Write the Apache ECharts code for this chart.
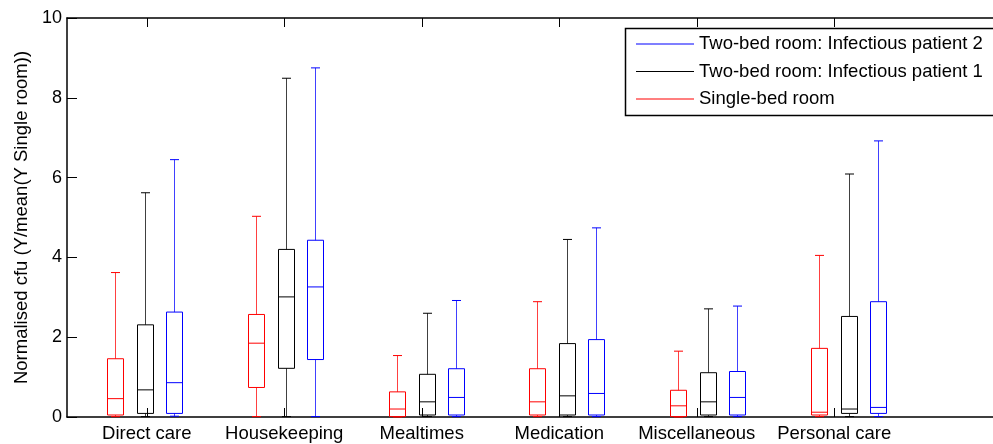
<!DOCTYPE html>
<html>
<head>
<meta charset="utf-8">
<script src="https://cdn.jsdelivr.net/npm/echarts@6/dist/echarts.min.js"></script>
<style>
html,body{margin:0;padding:0;background:#fff;overflow:hidden;}
#chart{width:993px;height:444px;}
</style>
</head>
<body>
<div id="chart"></div>
<script>
const categories = ['Direct care', 'Housekeeping', 'Mealtimes', 'Medication', 'Miscellaneous', 'Personal care'];
const yTickValues = [0, 2, 4, 6, 8, 10];
const seriesNames = ['Single-bed room', 'Two-bed room: Infectious patient 1', 'Two-bed room: Infectious patient 2'];
// each row: [lower whisker, Q1, median, Q3, upper whisker]
const singleBed = [
  [0.01, 0.05, 0.46, 1.46, 3.62],
  [0.01, 0.74, 1.85, 2.57, 5.03],
  [0.00, 0.01, 0.20, 0.63, 1.54],
  [0.01, 0.05, 0.38, 1.21, 2.89],
  [0.00, 0.01, 0.28, 0.67, 1.65],
  [0.01, 0.05, 0.12, 1.72, 4.05]
];
const twoBedPatient1 = [
  [0.01, 0.09, 0.68, 2.31, 5.62],
  [0.01, 1.22, 3.01, 4.20, 8.49],
  [0.01, 0.05, 0.38, 1.07, 2.60],
  [0.01, 0.05, 0.53, 1.84, 4.45],
  [0.01, 0.05, 0.38, 1.11, 2.71],
  [0.01, 0.09, 0.20, 2.52, 6.09]
];
const twoBedPatient2 = [
  [0.02, 0.09, 0.86, 2.63, 6.45],
  [0.01, 1.44, 3.26, 4.43, 8.75],
  [0.01, 0.05, 0.49, 1.21, 2.92],
  [0.01, 0.05, 0.59, 1.94, 4.74],
  [0.01, 0.05, 0.49, 1.14, 2.78],
  [0.01, 0.09, 0.24, 2.89, 6.92]
];

const FONT = '"Liberation Sans", Arial, sans-serif';
const colors = ['#ff0000', '#000000', '#0000ff'];
const offsets = [-30, 0, 29];
const groups = [singleBed, twoBedPatient1, twoBedPatient2];

function makeRenderer(offset) {
  return function (params, api) {
    const idx = api.value(0);
    const cx = Math.round(api.coord([idx, 0])[0] + offset) + 0.5;
    const yy = function (d) { return api.coord([idx, api.value(d)])[1]; };
    const yMin = yy(1), yQ1 = yy(2), yMed = yy(3), yQ3 = yy(4), yMax = yy(5);
    const hw = 8, cw = 4.5;
    const color = api.visual('color');
    const whisk = { stroke: color, lineWidth: 1, opacity: 0.75, fill: null };
    const solid = { stroke: color, lineWidth: 1, fill: null };
    return {
      type: 'group',
      children: [
        { type: 'line', shape: { x1: cx, y1: yQ3, x2: cx, y2: yMax }, style: whisk },
        { type: 'line', shape: { x1: cx, y1: yQ1, x2: cx, y2: yMin }, style: whisk },
        { type: 'line', shape: { x1: cx - cw, y1: yMax, x2: cx + cw, y2: yMax }, style: solid },
        { type: 'line', shape: { x1: cx - cw, y1: yMin, x2: cx + cw, y2: yMin }, style: solid },
        { type: 'rect', shape: { x: cx - hw, y: yQ3, width: 2 * hw, height: yQ1 - yQ3 }, style: { stroke: color, lineWidth: 1, fill: 'none' } },
        { type: 'line', shape: { x1: cx - hw, y1: yMed, x2: cx + hw, y2: yMed }, style: solid }
      ]
    };
  };
}

const series = groups.map(function (vals, s) {
  return {
    name: seriesNames[s],
    type: 'custom',
    xAxisIndex: 4,
    yAxisIndex: 2,
    itemStyle: { color: colors[s] },
    encode: { x: 0, y: [1, 2, 3, 4, 5] },
    renderItem: makeRenderer(offsets[s]),
    data: categories.map(function (c, i) { return [i].concat(vals[i]); }),
    z: 3
  };
});

const frameLine = { show: true, onZero: false, lineStyle: { color: '#000', width: 1.5 } };

const chart = echarts.init(document.getElementById('chart'), null, { renderer: 'canvas' });
chart.setOption({
  backgroundColor: '#fff',
  animation: false,
  textStyle: { fontFamily: FONT, color: '#000' },
  graphic: [
    {
      type: 'polyline', z: 5, silent: true,
      shape: { points: [[1010, 28.5], [625.5, 28.5], [625.5, 115.5], [1010, 115.5]] },
      style: { fill: null, stroke: '#000', lineWidth: 1.5 }
    }
  ],
  legend: {
    data: [seriesNames[2], seriesNames[1], seriesNames[0]],
    orient: 'vertical',
    left: 626,
    top: 29,
    z: 10,
    padding: [5, 0, 5, 10],
    itemGap: 7.5,
    itemWidth: 58,
    itemHeight: 1,
    icon: 'rect',
    selectedMode: false,
    textStyle: { fontFamily: FONT, fontSize: 18.5, color: '#000', lineHeight: 20 }
  },
  grid: [
    { left: 67, top: 18, right: 0, bottom: 27, show: false },
    { left: 78, width: 825, top: 18, bottom: 27 },
    { left: 75, width: 844, top: 18, bottom: 27 }
  ],
  xAxis: [
    { type: 'value', gridIndex: 0, min: 0, max: 1, position: 'bottom',
      axisLine: frameLine, axisTick: { show: false }, axisLabel: { show: false }, splitLine: { show: false } },
    { type: 'value', gridIndex: 0, min: 0, max: 1, position: 'top',
      axisLine: frameLine, axisTick: { show: false }, axisLabel: { show: false }, splitLine: { show: false } },
    {
      type: 'category', gridIndex: 1, data: categories, position: 'bottom',
      axisLine: { show: false },
      axisTick: { show: true, inside: true, alignWithLabel: true, length: 9, lineStyle: { color: '#000' } },
      axisLabel: { interval: 0, fontFamily: FONT, fontSize: 18.5, color: '#000', margin: 7 },
      splitLine: { show: false }
    },
    {
      type: 'category', gridIndex: 1, data: categories, position: 'top',
      axisLine: { show: false },
      axisTick: { show: true, inside: true, alignWithLabel: true, length: 9, lineStyle: { color: '#000' } },
      axisLabel: { show: false },
      splitLine: { show: false }
    },
    { type: 'category', gridIndex: 2, data: categories, show: false }
  ],
  yAxis: [
    {
      type: 'value', gridIndex: 0, min: 0, max: 10, interval: 2,
      name: 'Normalised cfu (Y/mean(Y Single room))',
      nameLocation: 'middle', nameGap: 36,
      nameTextStyle: { fontFamily: FONT, fontSize: 18.5, color: '#000' },
      axisLine: { show: true, lineStyle: { color: '#000', width: 1.5 } },
      axisTick: { show: true, inside: true, length: 10, lineStyle: { color: '#000' } },
      axisLabel: { fontFamily: FONT, fontSize: 18, color: '#000', margin: 5,
        formatter: function (v) { return yTickValues.indexOf(v) >= 0 ? String(v) : ''; } },
      splitLine: { show: false }
    },
    { type: 'value', gridIndex: 1, min: 0, max: 10, show: false },
    { type: 'value', gridIndex: 2, min: 0, max: 10, show: false }
  ],
  series: series
});
</script>
</body>
</html>
